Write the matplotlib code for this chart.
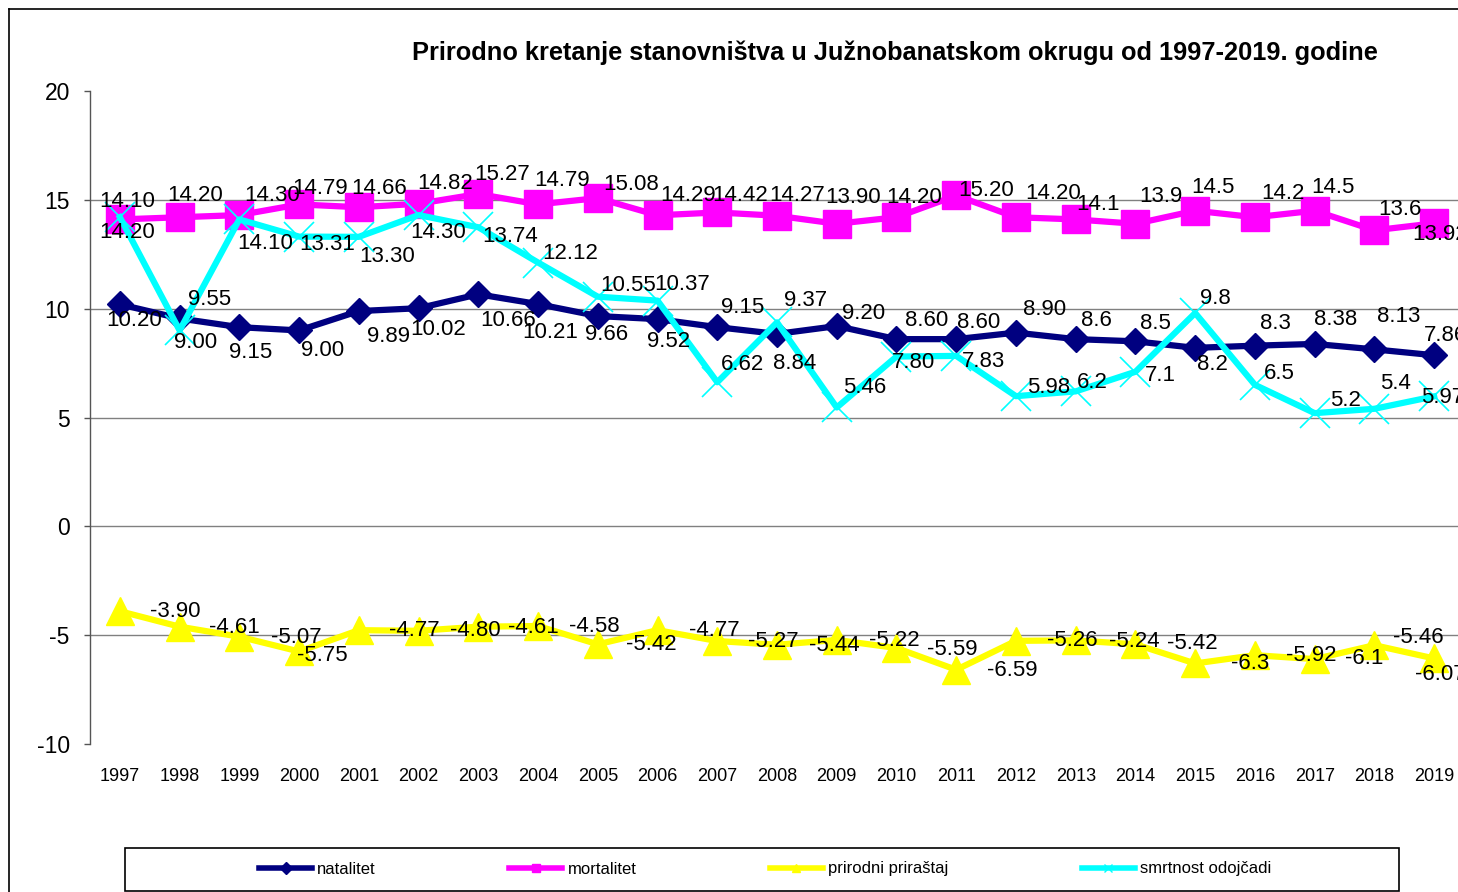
import matplotlib as mpl
mpl.use('Agg')
import matplotlib.pyplot as plt
from matplotlib.lines import Line2D
from matplotlib.patches import Rectangle

plt.rcParams['font.family'] = ['Liberation Sans', 'DejaVu Sans']

# podaci
godine = [str(g) for g in range(1997, 2020)]
natalitet = [10.20, 9.55, 9.15, 9.00, 9.89, 10.02, 10.66, 10.21, 9.66, 9.52, 9.15, 8.84,
             9.20, 8.60, 8.60, 8.90, 8.6, 8.5, 8.2, 8.3, 8.38, 8.13, 7.86]
mortalitet = [14.10, 14.20, 14.30, 14.79, 14.66, 14.82, 15.27, 14.79, 15.08, 14.29, 14.42, 14.27,
              13.90, 14.20, 15.20, 14.20, 14.1, 13.9, 14.5, 14.2, 14.5, 13.6, 13.92]
prirast = [-3.90, -4.61, -5.07, -5.75, -4.77, -4.80, -4.61, -4.58, -5.42, -4.77, -5.27, -5.44,
           -5.22, -5.59, -6.59, -5.26, -5.24, -5.42, -6.3, -5.92, -6.1, -5.46, -6.07]
smrtnost = [14.20, 9.00, 14.10, 13.31, 13.30, 14.30, 13.74, 12.12, 10.55, 10.37, 6.62, 9.37,
            5.46, 7.80, 7.83, 5.98, 6.2, 7.1, 9.8, 6.5, 5.2, 5.4, 5.97]

# tekst labela kako stoji na grafikonu
nat_txt = ['10.20', '9.55', '9.15', '9.00', '9.89', '10.02', '10.66', '10.21', '9.66', '9.52', '9.15', '8.84',
           '9.20', '8.60', '8.60', '8.90', '8.6', '8.5', '8.2', '8.3', '8.38', '8.13', '7.86']
mor_txt = ['14.10', '14.20', '14.30', '14.79', '14.66', '14.82', '15.27', '14.79', '15.08', '14.29', '14.42', '14.27',
           '13.90', '14.20', '15.20', '14.20', '14.1', '13.9', '14.5', '14.2', '14.5', '13.6', '13.92']
pri_txt = ['-3.90', '-4.61', '-5.07', '-5.75', '-4.77', '-4.80', '-4.61', '-4.58', '-5.42', '-4.77', '-5.27', '-5.44',
           '-5.22', '-5.59', '-6.59', '-5.26', '-5.24', '-5.42', '-6.3', '-5.92', '-6.1', '-5.46', '-6.07']
smr_txt = ['14.20', '9.00', '14.10', '13.31', '13.30', '14.30', '13.74', '12.12', '10.55', '10.37', '6.62', '9.37',
           '5.46', '7.80', '7.83', '5.98', '6.2', '7.1', '9.8', '6.5', '5.2', '5.4', '5.97']

# pomeraji labela (pikseli, dy pozitivno = nadole)
nat_dx = [14, 30, 11, 23, 30, 20, 30, 12, 9, 11, 25, 18, 27, 30, 22, 29, 21, 20, 17, 21, 21, 24, 11]
nat_dy = [16, -19, 25, 20, 25, 21, 26, 28, 18, 22, -20, 30, -13, -19, -17, -23, -19, -18, 17, -22, -24, -33, -20]
mor_dx = [7, 16, 33, 21, 20, 27, 24, 24, 33, 31, 23, 20, 16, 18, 30, 37, 22, 25, 18, 28, 18, 26, 6]
mor_dy = [-18, -22, -20, -16, -19, -20, -19, -24, -14, -20, -17, -20, -26, -20, -5, -24, -15, -27, -23, -24, -23, -21, 11]
smr_dx = [7, 16, 26, 28, 28, 20, 32, 32, 30, 25, 25, 29, 28, 17, 27, 33, 17, 25, 20, 24, 31, 21, 8]
smr_dy = [15, 12, 24, 8, 20, 17, 9, -9, -11, -16, -18, -22, -20, 6, 6, -9, -9, 4, -15, -11, -13, -25, 1]
pri_dx = [55, 55, 57, 23, 55, 57, 55, 56, 54, 57, 56, 57, 58, 56, 56, 56, 59, 57, 55, 56, 50, 44, 6]
pri_dy = [0, 1, 1, 4, 0, 0, 1, 0, 0, 0, 0, 1, 1, 1, 1, 0, 1, -1, 0, 0, -1, -8, 16]

W, H = 1458, 892
fig = plt.figure(figsize=(W / 100, H / 100), dpi=100)
ax = fig.add_axes([90 / W, (H - 744) / H, 1374 / W, 653 / H])

x = list(range(len(godine)))

serije = [
    ('natalitet', natalitet, '#000080', 'D', 13, 1, nat_txt, nat_dx, nat_dy),
    ('mortalitet', mortalitet, '#FF00FF', 's', 20, 1, mor_txt, mor_dx, mor_dy),
    ('prirodni priraštaj', prirast, '#FFFF00', '^', 20, 1, pri_txt, pri_dx, pri_dy),
    ('smrtnost odojčadi', smrtnost, '#00FFFF', 'x', 21, 1.2, smr_txt, smr_dx, smr_dy),
]

yticks = [-10, -5, 0, 5, 10, 15, 20]
for v in yticks[1:-1]:
    ax.axhline(v, color='#808080', lw=1.0, zorder=1)

for name, vals, col, mk, ms, mew, txt, dxs, dys in serije:
    ax.plot(x, vals, color=col, lw=4.5, marker=mk, ms=ms, mec=col, mfc=col, mew=mew, zorder=3,
            solid_joinstyle='round')

for name, vals, col, mk, ms, mew, txt, dxs, dys in serije:
    for i, v in enumerate(vals):
        ax.annotate(txt[i], (x[i], v), xytext=(dxs[i], -dys[i]), textcoords='offset pixels',
                    ha='center', va='center', fontsize=16, color='black', zorder=5,
                    annotation_clip=False)

ax.set_xlim(-0.5, 22.5)
ax.set_ylim(-10, 20)
ax.set_yticks(yticks)
ax.set_yticklabels([str(v) for v in yticks], fontsize=16.5)
ax.set_xticks(x)
ax.set_xticklabels(godine, fontsize=13)
ax.tick_params(axis='x', length=0, pad=17)
ax.tick_params(axis='y', length=4.5, width=1, color='#555555', pad=10)
for s in ['top', 'right', 'bottom']:
    ax.spines[s].set_visible(False)
ax.spines['left'].set_color('#555555')
ax.spines['left'].set_linewidth(1)

fig.text(895 / W, 1 - 53 / H, 'Prirodno kretanje stanovništva u Južnobanatskom okrugu od 1997-2019. godine',
         ha='center', va='center', fontsize=18.3, fontweight='bold')

# okvir grafikona
fig.add_artist(Line2D([9 / W, 1], [1 - 9 / H, 1 - 9 / H], color='black', lw=1.2))
fig.add_artist(Line2D([9 / W, 9 / W], [0, 1 - 9 / H], color='black', lw=1.2))

# legenda
fig.add_artist(Rectangle((125 / W, 1 - 891 / H), (1399 - 125) / W, (891 - 848) / H,
                         transform=fig.transFigure, fill=False, ec='black', lw=1.2))
handles = [Line2D([], [], color=c, lw=4, marker=m, ms=6, mec=c, mfc=c) for _, _, c, m, *_ in serije]
leg = fig.legend(handles, [s[0] for s in serije], loc='center', bbox_to_anchor=(765 / W, 1 - 869 / H),
                 ncol=4, frameon=False, fontsize=12, handlelength=3.2, handletextpad=0.3,
                 columnspacing=8.0)

fig.savefig('out.png', dpi=100)
